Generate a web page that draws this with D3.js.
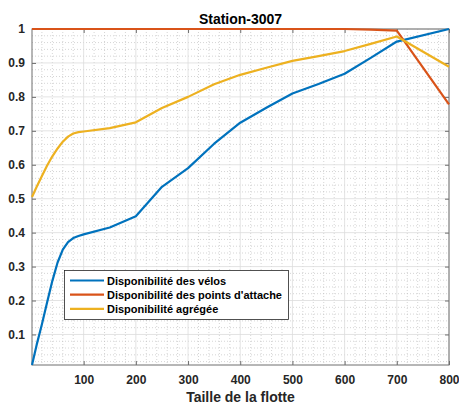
<!DOCTYPE html>
<html>
<head>
<meta charset="utf-8">
<script src="https://cdn.jsdelivr.net/npm/d3@7"></script>
<style>
  html, body { margin: 0; padding: 0; background: #fff; }
  svg { display: block; font-family: "Liberation Sans", Arial, Helvetica, sans-serif; }
</style>
</head>
<body>
<svg id="chart" width="459" height="411"></svg>
<script>
// Fleet sizes sampled for station 3007
const fleetSizes = [1, 10, 20, 30, 40, 50, 60, 70, 80, 90, 100, 150, 200, 250, 300, 350, 400, 450, 500, 550, 600, 650, 700, 800];

// Bike availability
const veloValues = [0.01, 0.07, 0.13, 0.195, 0.258, 0.312, 0.35, 0.372, 0.384, 0.39, 0.395, 0.415, 0.448, 0.535, 0.59, 0.662, 0.724, 0.768, 0.81, 0.838, 0.868, 0.915, 0.963, 1.0];
// Dock availability
const attacheValues = [1, 1, 1, 1, 1, 1, 1, 1, 1, 1, 1, 1, 1, 1, 1, 1, 1, 1, 1, 1, 1, 0.998, 0.995, 0.778];
// Aggregated availability
const agregeeValues = [0.505, 0.535, 0.567, 0.598, 0.625, 0.648, 0.668, 0.683, 0.692, 0.696, 0.698, 0.708, 0.725, 0.767, 0.8, 0.837, 0.865, 0.886, 0.906, 0.92, 0.935, 0.956, 0.978, 0.889];

const seriesNames = ["Disponibilité des vélos", "Disponibilité des points d'attache", "Disponibilité agrégée"];
const seriesColors = ["#0072BD", "#D95319", "#EDB120"];

const xTickValues = [100, 200, 300, 400, 500, 600, 700, 800];
const yTickValues = [0.1, 0.2, 0.3, 0.4, 0.5, 0.6, 0.7, 0.8, 0.9, 1];
const titleText = "Station-3007";
const xLabelText = "Taille de la flotte";

const svg = d3.select("#chart");
const mLeft = 32, mRight = 449, mTop = 29, mBottom = 365;

const x = d3.scaleLinear().domain([1, 800]).range([mLeft, mRight]);
const y = d3.scaleLinear().domain([0.01, 1]).range([mBottom, mTop]);

const plot = svg.append("g");

// Minor grid (dotted)
const xMinor = d3.range(20, 800, 20).filter(v => v % 100 !== 0);
const yMinor = d3.range(0.02, 1, 0.02).filter(v => Math.abs(v * 10 - Math.round(v * 10)) > 1e-6);
plot.append("g").selectAll("line").data(xMinor).join("line")
  .attr("x1", d => x(d)).attr("x2", d => x(d))
  .attr("y1", mTop).attr("y2", mBottom)
  .attr("stroke", "#b8b8b8").attr("stroke-width", 0.6).attr("stroke-dasharray", "1,2");
plot.append("g").selectAll("line").data(yMinor).join("line")
  .attr("x1", mLeft).attr("x2", mRight)
  .attr("y1", d => y(d)).attr("y2", d => y(d))
  .attr("stroke", "#b8b8b8").attr("stroke-width", 0.6).attr("stroke-dasharray", "1,2");

// Major grid
plot.append("g").selectAll("line").data(xTickValues).join("line")
  .attr("x1", d => x(d)).attr("x2", d => x(d))
  .attr("y1", mTop).attr("y2", mBottom)
  .attr("stroke", "#dcdcdc").attr("stroke-width", 0.8);
plot.append("g").selectAll("line").data(yTickValues).join("line")
  .attr("x1", mLeft).attr("x2", mRight)
  .attr("y1", d => y(d)).attr("y2", d => y(d))
  .attr("stroke", "#dcdcdc").attr("stroke-width", 0.8);

// Axes with inward ticks on all four sides
const axisColor = "#6e6e6e";
function styleAxis(g) {
  g.select(".domain").remove();
  g.selectAll(".tick line").attr("stroke", axisColor);
  g.selectAll(".tick text").attr("fill", "#262626").attr("font-size", 12).attr("font-weight", "bold");
}
svg.append("g").attr("transform", `translate(0,${mBottom})`)
  .call(d3.axisBottom(x).tickValues(xTickValues).tickSizeInner(-4).tickSizeOuter(0).tickPadding(10).tickFormat(d3.format("d")))
  .call(styleAxis);
svg.append("g").attr("transform", `translate(0,${mTop})`)
  .call(d3.axisTop(x).tickValues(xTickValues).tickSizeInner(-4).tickSizeOuter(0).tickFormat(""))
  .call(styleAxis);
svg.append("g").attr("transform", `translate(${mLeft},0)`)
  .call(d3.axisLeft(y).tickValues(yTickValues).tickSizeInner(-4).tickSizeOuter(0).tickPadding(7).tickFormat(d => d === 1 ? "1" : d3.format(".1f")(d)))
  .call(styleAxis);
svg.append("g").attr("transform", `translate(${mRight},0)`)
  .call(d3.axisRight(y).tickValues(yTickValues).tickSizeInner(-4).tickSizeOuter(0).tickFormat(""))
  .call(styleAxis);

// Box
svg.append("rect").attr("x", mLeft).attr("y", mTop).attr("width", mRight - mLeft).attr("height", mBottom - mTop)
  .attr("fill", "none").attr("stroke", axisColor).attr("stroke-width", 1);

// Series lines
const allSeries = [veloValues, attacheValues, agregeeValues];
const line = d3.line().x((d, i) => x(fleetSizes[i])).y(d => y(d));
svg.append("defs").append("clipPath").attr("id", "clip")
  .append("rect").attr("x", mLeft - 1).attr("y", mTop - 2).attr("width", mRight - mLeft + 2).attr("height", mBottom - mTop + 3);
const lines = svg.append("g").attr("clip-path", "url(#clip)");
allSeries.forEach((vals, k) => {
  lines.append("path").datum(vals)
    .attr("d", line)
    .attr("fill", "none")
    .attr("stroke", seriesColors[k])
    .attr("stroke-width", 2.2)
    .attr("stroke-linejoin", "round");
});

// Title and x label
svg.append("text").attr("x", (mLeft + mRight) / 2).attr("y", 24)
  .attr("text-anchor", "middle").attr("font-size", 14).attr("font-weight", "bold").attr("fill", "#000")
  .text(titleText);
svg.append("text").attr("x", (mLeft + mRight) / 2).attr("y", 402)
  .attr("text-anchor", "middle").attr("font-size", 14).attr("font-weight", "bold").attr("fill", "#262626")
  .text(xLabelText);

// Legend
const lg = svg.append("g");
lg.append("rect").attr("x", 64.5).attr("y", 270.5).attr("width", 224).attr("height", 49)
  .attr("fill", "#fff").attr("stroke", "#262626").attr("stroke-width", 0.8);
seriesNames.forEach((name, k) => {
  const yy = 280.5 + k * 14.2;
  lg.append("line").attr("x1", 70).attr("x2", 104).attr("y1", yy).attr("y2", yy)
    .attr("stroke", seriesColors[k]).attr("stroke-width", 2.2);
  lg.append("text").attr("x", 107).attr("y", yy + 4)
    .attr("font-size", 11).attr("font-weight", "bold").attr("fill", "#000")
    .text(name);
});
</script>
</body>
</html>
